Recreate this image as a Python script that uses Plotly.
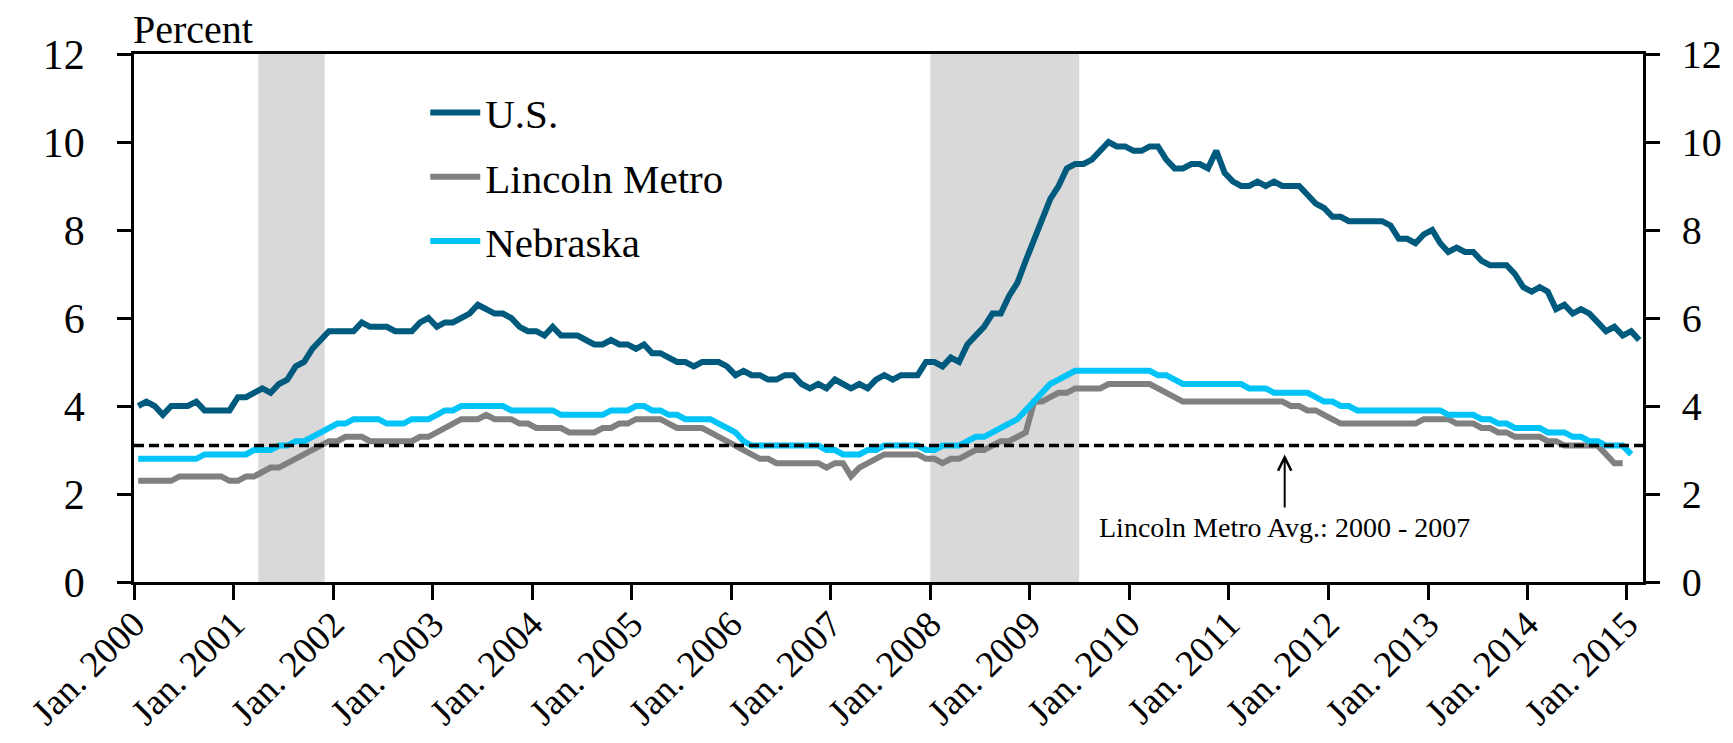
import pandas as pd
import plotly.graph_objects as go

# Monthly unemployment rates, Jan. 2000 onward (percent)
US = [
    4.0, 4.1, 4.0, 3.8, 4.0, 4.0, 4.0, 4.1, 3.9, 3.9, 3.9, 3.9,  # 2000
    4.2, 4.2, 4.3, 4.4, 4.3, 4.5, 4.6, 4.9, 5.0, 5.3, 5.5, 5.7,  # 2001
    5.7, 5.7, 5.7, 5.9, 5.8, 5.8, 5.8, 5.7, 5.7, 5.7, 5.9, 6.0,  # 2002
    5.8, 5.9, 5.9, 6.0, 6.1, 6.3, 6.2, 6.1, 6.1, 6.0, 5.8, 5.7,  # 2003
    5.7, 5.6, 5.8, 5.6, 5.6, 5.6, 5.5, 5.4, 5.4, 5.5, 5.4, 5.4,  # 2004
    5.3, 5.4, 5.2, 5.2, 5.1, 5.0, 5.0, 4.9, 5.0, 5.0, 5.0, 4.9,  # 2005
    4.7, 4.8, 4.7, 4.7, 4.6, 4.6, 4.7, 4.7, 4.5, 4.4, 4.5, 4.4,  # 2006
    4.6, 4.5, 4.4, 4.5, 4.4, 4.6, 4.7, 4.6, 4.7, 4.7, 4.7, 5.0,  # 2007
    5.0, 4.9, 5.1, 5.0, 5.4, 5.6, 5.8, 6.1, 6.1, 6.5, 6.8, 7.3,  # 2008
    7.8, 8.3, 8.7, 9.0, 9.4, 9.5, 9.5, 9.6, 9.8, 10.0, 9.9, 9.9,  # 2009
    9.8, 9.8, 9.9, 9.9, 9.6, 9.4, 9.4, 9.5, 9.5, 9.4, 9.8, 9.3,  # 2010
    9.1, 9.0, 9.0, 9.1, 9.0, 9.1, 9.0, 9.0, 9.0, 8.8, 8.6, 8.5,  # 2011
    8.3, 8.3, 8.2, 8.2, 8.2, 8.2, 8.2, 8.1, 7.8, 7.8, 7.7, 7.9,  # 2012
    8.0, 7.7, 7.5, 7.6, 7.5, 7.5, 7.3, 7.2, 7.2, 7.2, 7.0, 6.7,  # 2013
    6.6, 6.7, 6.6, 6.2, 6.3, 6.1, 6.2, 6.1, 5.9, 5.7, 5.8, 5.6,  # 2014
    5.7, 5.5,                                                    # 2015
]

LINCOLN = [
    2.3, 2.3, 2.3, 2.3, 2.3, 2.4, 2.4, 2.4, 2.4, 2.4, 2.4, 2.3,  # 2000
    2.3, 2.4, 2.4, 2.5, 2.6, 2.6, 2.7, 2.8, 2.9, 3.0, 3.1, 3.2,  # 2001
    3.2, 3.3, 3.3, 3.3, 3.2, 3.2, 3.2, 3.2, 3.2, 3.2, 3.3, 3.3,  # 2002
    3.4, 3.5, 3.6, 3.7, 3.7, 3.7, 3.8, 3.7, 3.7, 3.7, 3.6, 3.6,  # 2003
    3.5, 3.5, 3.5, 3.5, 3.4, 3.4, 3.4, 3.4, 3.5, 3.5, 3.6, 3.6,  # 2004
    3.7, 3.7, 3.7, 3.7, 3.6, 3.5, 3.5, 3.5, 3.5, 3.4, 3.3, 3.2,  # 2005
    3.1, 3.0, 2.9, 2.8, 2.8, 2.7, 2.7, 2.7, 2.7, 2.7, 2.7, 2.6,  # 2006
    2.7, 2.7, 2.4, 2.6, 2.7, 2.8, 2.9, 2.9, 2.9, 2.9, 2.9, 2.8,  # 2007
    2.8, 2.7, 2.8, 2.8, 2.9, 3.0, 3.0, 3.1, 3.2, 3.2, 3.3, 3.4,  # 2008
    4.1, 4.1, 4.2, 4.3, 4.3, 4.4, 4.4, 4.4, 4.4, 4.5, 4.5, 4.5,  # 2009
    4.5, 4.5, 4.5, 4.4, 4.3, 4.2, 4.1, 4.1, 4.1, 4.1, 4.1, 4.1,  # 2010
    4.1, 4.1, 4.1, 4.1, 4.1, 4.1, 4.1, 4.0, 4.0, 3.9, 3.9, 3.8,  # 2011
    3.7, 3.6, 3.6, 3.6, 3.6, 3.6, 3.6, 3.6, 3.6, 3.6, 3.6, 3.7,  # 2012
    3.7, 3.7, 3.7, 3.6, 3.6, 3.6, 3.5, 3.5, 3.4, 3.4, 3.3, 3.3,  # 2013
    3.3, 3.3, 3.2, 3.2, 3.1, 3.1, 3.1, 3.1, 3.1, 2.9, 2.7, 2.7,  # 2014
]

NEBRASKA = [
    2.8, 2.8, 2.8, 2.8, 2.8, 2.8, 2.8, 2.8, 2.9, 2.9, 2.9, 2.9,  # 2000
    2.9, 2.9, 3.0, 3.0, 3.0, 3.1, 3.1, 3.2, 3.2, 3.3, 3.4, 3.5,  # 2001
    3.6, 3.6, 3.7, 3.7, 3.7, 3.7, 3.6, 3.6, 3.6, 3.7, 3.7, 3.7,  # 2002
    3.8, 3.9, 3.9, 4.0, 4.0, 4.0, 4.0, 4.0, 4.0, 3.9, 3.9, 3.9,  # 2003
    3.9, 3.9, 3.9, 3.8, 3.8, 3.8, 3.8, 3.8, 3.8, 3.9, 3.9, 3.9,  # 2004
    4.0, 4.0, 3.9, 3.9, 3.8, 3.8, 3.7, 3.7, 3.7, 3.7, 3.6, 3.5,  # 2005
    3.4, 3.2, 3.1, 3.1, 3.1, 3.1, 3.1, 3.1, 3.1, 3.1, 3.1, 3.0,  # 2006
    3.0, 2.9, 2.9, 2.9, 3.0, 3.0, 3.1, 3.1, 3.1, 3.1, 3.1, 3.0,  # 2007
    3.0, 3.1, 3.1, 3.1, 3.2, 3.3, 3.3, 3.4, 3.5, 3.6, 3.7, 3.9,  # 2008
    4.1, 4.3, 4.5, 4.6, 4.7, 4.8, 4.8, 4.8, 4.8, 4.8, 4.8, 4.8,  # 2009
    4.8, 4.8, 4.8, 4.7, 4.7, 4.6, 4.5, 4.5, 4.5, 4.5, 4.5, 4.5,  # 2010
    4.5, 4.5, 4.4, 4.4, 4.4, 4.3, 4.3, 4.3, 4.3, 4.3, 4.2, 4.1,  # 2011
    4.1, 4.0, 4.0, 3.9, 3.9, 3.9, 3.9, 3.9, 3.9, 3.9, 3.9, 3.9,  # 2012
    3.9, 3.9, 3.8, 3.8, 3.8, 3.8, 3.7, 3.7, 3.6, 3.6, 3.5, 3.5,  # 2013
    3.5, 3.5, 3.4, 3.4, 3.4, 3.3, 3.3, 3.2, 3.2, 3.1, 3.1, 3.1,  # 2014
    2.9,                                                         # 2015
]

LINCOLN_AVG = 3.1  # Lincoln Metro average, 2000 - 2007
RECESSION_START = ["2001-04-01", "2008-01-01"]
RECESSION_END = ["2001-12-01", "2009-07-01"]
X_START, X_END = "2000-01-01", "2015-03-01"

months = pd.date_range(X_START, periods=len(US), freq="MS")

FONT = "Liberation Serif, Times New Roman, serif"
colors = {"U.S.": "#005A7E", "Lincoln Metro": "#808080", "Nebraska": "#00C4F8"}

fig = go.Figure()

for name, values in [("U.S.", US), ("Lincoln Metro", LINCOLN), ("Nebraska", NEBRASKA)]:
    fig.add_trace(go.Scatter(
        x=months[:len(values)],
        y=values,
        name=name,
        legendgroup=name,
        mode="lines",
        xperiod="M1",
        xperiodalignment="middle",
        line=dict(color=colors[name], width=6),
    ))

# Dashed average line, drawn on the right-hand axis so it sits on top
fig.add_trace(go.Scatter(
    x=[X_START, X_END],
    y=[LINCOLN_AVG, LINCOLN_AVG],
    mode="lines",
    yaxis="y2",
    showlegend=False,
    line=dict(color="black", width=3.5, dash="10px,5px"),
))

# Recession shading
for start, end in zip(RECESSION_START, RECESSION_END):
    fig.add_shape(type="rect", xref="x", yref="y domain", x0=start, x1=end, y0=0, y1=1,
                  fillcolor="#D9D9D9", line_width=0, layer="below")

axis_style = dict(
    range=[0, 12], dtick=2, ticks="outside", ticklen=14, tickwidth=2.5, tickcolor="black",
    showline=True, linewidth=2.5, linecolor="black", showgrid=False, zeroline=False,
    tickfont=dict(family=FONT, size=42, color="black"), ticklabelstandoff=24, automargin=False,
)

# the page puts the figure 8px in from each edge, so it is sized to fit the window
fig.update_layout(
    width=1717, height=727,
    margin=dict(l=126, r=82, t=46, b=153),
    plot_bgcolor="white", paper_bgcolor="white",
    font=dict(family=FONT, color="black"),
    xaxis=dict(
        type="date", range=[X_START, X_END], tick0=X_START, dtick="M12", tickformat="%b. %Y",
        tickangle=-45, ticks="outside", ticklen=15, tickwidth=2.5, tickcolor="black",
        showline=True, linewidth=2.5, linecolor="black", mirror=True, showgrid=False, zeroline=False,
        tickfont=dict(family=FONT, size=37, color="black"), ticklabelstandoff=-12,
        ticklabeloverflow="allow", automargin=False,
    ),
    yaxis=axis_style,
    yaxis2=dict(axis_style, overlaying="y", side="right", ticklabelstandoff=14,
                tickfont=dict(family=FONT, size=40, color="black")),
    legend=dict(x=0.193, y=0.952, xanchor="left", yanchor="top", bgcolor="rgba(0,0,0,0)",
                font=dict(family=FONT, size=41, color="black"), itemwidth=50,
                traceorder="grouped", tracegroupgap=8),
    showlegend=True,
)

fig.add_annotation(text="Percent", xref="paper", yref="paper", x=0, y=1, xanchor="left", yanchor="bottom",
                   showarrow=False, font=dict(family=FONT, size=40, color="black"), xshift=-3, yshift=0)

fig.add_annotation(text="Lincoln Metro Avg.: 2000 - 2007", x="2011-07-25", y=LINCOLN_AVG, xref="x", yref="y",
                   showarrow=True, arrowhead=5, arrowsize=1.3, arrowwidth=2, arrowcolor="black",
                   ax=0, ay=82, standoff=9, borderpad=4, font=dict(family=FONT, size=28, color="black"))

fig.write_html("out.html")
